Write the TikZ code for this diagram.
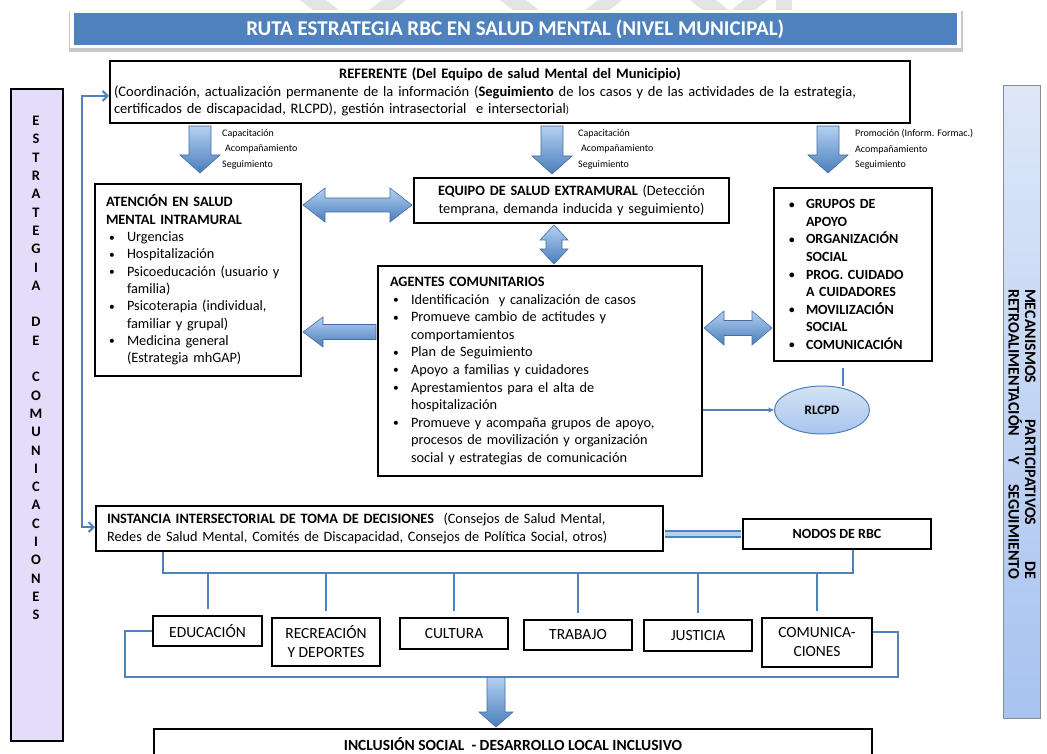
\documentclass[tikz,border=0pt]{standalone}
\usepackage{fontspec}
\usepackage{graphicx}
\setmainfont{Carlito}
\usetikzlibrary{calc,arrows.meta,shapes.geometric}
\definecolor{tblue}{HTML}{4F81BD}
\definecolor{lav}{HTML}{E5DCF9}
\definecolor{arrtop}{HTML}{B4D0F2}
\definecolor{arrbot}{HTML}{4A7EBB}
\definecolor{rbtop}{HTML}{DEE7F8}
\definecolor{rbbot}{HTML}{A7C3EF}
\definecolor{elltop}{HTML}{D3E2F6}
\definecolor{ellbot}{HTML}{A9C5EE}
\definecolor{wm}{HTML}{E4E4E4}
\newcommand\smbul{\raisebox{0.5pt}{\scalebox{0.8}{\textbullet}}}
\newcommand\bul[1]{\makebox[21pt][l]{\hspace{3pt}\smbul}#1}
\newcommand\cnt[1]{\hspace*{21pt}#1}
\newcommand\bulg[1]{\makebox[26pt][l]{\hspace{9pt}\smbul}#1}
\newcommand\cntg[1]{\hspace*{26pt}#1}
% block arrows: #1 start, #2 tip, #3 shaft half width, #4 head half width, #5 head length
\newcommand\blkdown[5]{\path[barrow] let \p1=#1,\p2=#2 in (\x1-#3pt,\y1)--(\x1+#3pt,\y1)--(\x1+#3pt,\y2+#5pt)--(\x1+#4pt,\y2+#5pt)--(\x1,\y2)--(\x1-#4pt,\y2+#5pt)--(\x1-#3pt,\y2+#5pt)--cycle;}
\newcommand\blkleft[5]{\path[barrow] let \p1=#1,\p2=#2 in (\x1,\y1-#3pt)--(\x1,\y1+#3pt)--(\x2+#5pt,\y1+#3pt)--(\x2+#5pt,\y1+#4pt)--(\x2,\y1)--(\x2+#5pt,\y1-#4pt)--(\x2+#5pt,\y1-#3pt)--cycle;}
\newcommand\blkhh[5]{\path[barrow] let \p1=#1,\p2=#2 in (\x1,\y1)--(\x1+#5pt,\y1+#4pt)--(\x1+#5pt,\y1+#3pt)--(\x2-#5pt,\y1+#3pt)--(\x2-#5pt,\y1+#4pt)--(\x2,\y1)--(\x2-#5pt,\y1-#4pt)--(\x2-#5pt,\y1-#3pt)--(\x1+#5pt,\y1-#3pt)--(\x1+#5pt,\y1-#4pt)--cycle;}
\newcommand\blkvv[5]{\path[barrow] let \p1=#1,\p2=#2 in (\x1,\y1)--(\x1+#4pt,\y1-#5pt)--(\x1+#3pt,\y1-#5pt)--(\x1+#3pt,\y2+#5pt)--(\x1+#4pt,\y2+#5pt)--(\x1,\y2)--(\x1-#4pt,\y2+#5pt)--(\x1-#3pt,\y2+#5pt)--(\x1-#3pt,\y1-#5pt)--(\x1-#4pt,\y1-#5pt)--cycle;}
\begin{document}
\begin{tikzpicture}[x=1pt,y=-1pt,
 box/.style={draw=black,line width=2pt,fill=white,anchor=north west,inner ysep=0pt},
 barrow/.style={top color=arrtop,bottom color=arrbot,draw=tblue!85!black,line width=0.6pt},
 conn/.style={draw=tblue,line width=2pt},
 lbl/.style={anchor=north west,align=left,inner sep=0pt,font=\fontsize{10}{15.5}\selectfont},
 body/.style={font=\fontsize{14.3}{17.3}\selectfont,align=left},
 sbox/.style={box,align=center,inner sep=0pt,font=\fontsize{15.5}{19}\selectfont}]
\useasboundingbox (0,0) rectangle (1047,754);
\clip (0,0) rectangle (1047,754);
\fill[white] (0,0) rectangle (1047,754);

% faint watermark at the top
\fill[wm] (300,0) -- (326,0) -- (340,11) -- (314,11) -- cycle;
\fill[wm] (382,0) -- (406,0) -- (392,11) -- (368,11) -- cycle;
\fill[wm] (500,0) -- (526,0) -- (540,11) -- (514,11) -- cycle;
\fill[wm] (598,0) -- (622,0) -- (608,11) -- (584,11) -- cycle;
\fill[wm] (690,0) -- (716,0) -- (730,11) -- (704,11) -- cycle;
\fill[wm] (744,0) -- (768,0) -- (754,11) -- (730,11) -- cycle;
\fill[wm] (776,0) rectangle (792,11);

% title
\fill[black!22] (69,11) rectangle (963,52);
\node[draw=white,line width=3.5pt,fill=tblue,minimum width=887,minimum height=35,anchor=north west,inner sep=0,text=white,font=\bfseries\fontsize{21}{24}\selectfont] (title) at (70,10) {RUTA ESTRATEGIA RBC EN SALUD MENTAL (NIVEL MUNICIPAL)};

% side bars
\node[draw=black,line width=1.6pt,fill=lav,minimum width=52,minimum height=652,anchor=north west,inner sep=0] (lbar) at (10,88) {};
\node[font=\bfseries\fontsize{14.5}{18.3}\selectfont,align=center,anchor=north,inner sep=0] (lbtext) at (36,116) {E\\S\\T\\R\\A\\T\\E\\G\\I\\A\\\mbox{}\\D\\E\\\mbox{}\\C\\O\\M\\U\\N\\I\\C\\A\\C\\I\\O\\N\\E\\S};
\node[draw=black!45,line width=0.8pt,top color=rbtop,bottom color=rbbot,minimum width=37,minimum height=633,anchor=north west,inner sep=0] (rbar) at (1003,85) {};
\node[rotate=-90,font=\bfseries\fontsize{16}{16.5}\selectfont,align=center,inner sep=0] (rbtext) at (1022,434) {\makebox[290pt][s]{MECANISMOS PARTICIPATIVOS DE}\\\makebox[290pt][s]{RETROALIMENTACIÓN Y SEGUIMIENTO}};

% main boxes
\node[box,body,font=\fontsize{14.5}{17.3}\selectfont,minimum width=800,minimum height=62,text width=792,inner xsep=4pt] (ref) at (109,60) {\makebox[792pt][c]{\bfseries REFERENTE (Del Equipo de salud Mental del Municipio)}\\(Coordinación, actualización permanente de la información (\textbf{Seguimiento} de los casos y de las actividades de la estrategia,\\certificados de discapacidad, RLCPD), gestión intrasectorial\ \ e intersectorial{\fontsize{10.5}{12}\selectfont)}};

\node[box,body,minimum width=206,minimum height=192,text width=184,inner xsep=11pt] (aten) at (94,183) {\textbf{ATENCIÓN EN SALUD}\\\textbf{MENTAL INTRAMURAL}\\\bul{Urgencias}\\\bul{Hospitalización}\\\bul{Psicoeducación (usuario y}\\\cnt{familia)}\\\bul{Psicoterapia (individual,}\\\cnt{familiar y grupal)}\\\bul{Medicina general}\\\cnt{(Estrategia mhGAP)}};

\node[box,body,align=center,minimum width=315,minimum height=45,text width=305,inner xsep=5pt] (equip) at (413,177) {\textbf{EQUIPO DE SALUD EXTRAMURAL} (Detección\\temprana, demanda inducida y seguimiento)};

\node[box,body,font=\fontsize{14.3}{17.6}\selectfont,minimum width=324,minimum height=210,text width=300,inner xsep=12pt] (agen) at (377,265) {\textbf{AGENTES COMUNITARIOS}\\\bul{Identificación\ \ y canalización de casos}\\\bul{Promueve cambio de actitudes y}\\\cnt{comportamientos}\\\bul{Plan de Seguimiento}\\\bul{Apoyo a familias y cuidadores}\\\bul{Aprestamientos para el alta de}\\\cnt{hospitalización}\\\bul{Promueve y acompaña grupos de apoyo,}\\\cnt{procesos de movilización y organización}\\\cnt{social y estrategias de comunicación}};

\node[box,align=left,font=\bfseries\fontsize{14}{17.6}\selectfont,minimum width=158,minimum height=173,text width=146,inner xsep=6pt] (grupos) at (773,187) {\bulg{GRUPOS DE}\\\cntg{APOYO}\\\bulg{ORGANIZACIÓN}\\\cntg{SOCIAL}\\\bulg{PROG. CUIDADO}\\\cntg{A CUIDADORES}\\\bulg{MOVILIZACIÓN}\\\cntg{SOCIAL}\\\bulg{COMUNICACIÓN}};

\node[ellipse,draw=tblue,line width=1pt,top color=elltop,bottom color=ellbot,minimum width=95,minimum height=48,inner sep=0,font=\bfseries\fontsize{13}{15}\selectfont] (rl) at (822,410) {RLCPD};

\node[box,body,minimum width=567,minimum height=45,text width=545,inner xsep=11pt] (inst) at (95,505) {\textbf{INSTANCIA INTERSECTORIAL DE TOMA DE DECISIONES}\ \ (Consejos de Salud Mental,\\Redes de Salud Mental, Comités de Discapacidad, Consejos de Política Social, otros)};

\node[box,minimum width=188,minimum height=30,inner sep=0,font=\bfseries\fontsize{14}{16}\selectfont] (nodos) at (742,518) {NODOS DE RBC};

\node[sbox,minimum width=109,minimum height=30] (edu) at (152,615) {EDUCACIÓN};
\node[sbox,minimum width=108,minimum height=48] (rec) at (271,617) {RECREACIÓN\\Y DEPORTES};
\node[sbox,minimum width=108,minimum height=31] (cul) at (399,617) {CULTURA};
\node[sbox,minimum width=108,minimum height=30] (tra) at (523,619) {TRABAJO};
\node[sbox,minimum width=108,minimum height=31] (jus) at (643,619) {JUSTICIA};
\node[sbox,minimum width=110,minimum height=49] (com) at (761,617) {COMUNICA-\\CIONES};

\node[box,minimum width=718,minimum height=30,inner sep=0,font=\bfseries\fontsize{15.5}{17}\selectfont] (incl) at (153,728) {INCLUSIÓN SOCIAL\ \ - DESARROLLO LOCAL INCLUSIVO};

% labels
\node[lbl] (lab1) at (222,129) {Capacitación\\\hspace*{3pt}Acompañamiento\\Seguimiento};
\node[lbl] (lab2) at (578,129) {Capacitación\\\hspace*{3pt}Acompañamiento\\Seguimiento};
\node[lbl] (lab3) at (855,129) {Promoción (Inform. Formac.)\\Acompañamiento\\Seguimiento};

% block arrows
\coordinate (xA) at (200,0);
\coordinate (xB) at (552,0);
\coordinate (xC) at (828,0);
\blkdown{($(ref.south -| xA)+(0,2)$)}{($(aten.north -| xA)+(0,-10)$)}{11}{20}{18}
\blkdown{($(ref.south -| xB)+(0,2)$)}{($(equip.north -| xB)+(0,-3)$)}{11}{20}{18}
\blkdown{($(ref.south -| xC)+(0,2)$)}{($(grupos.north -| xC)+(0,-14)$)}{11}{20}{18}
\coordinate (yAE) at (0,205);
\blkhh{($(aten.east |- yAE)+(1,0)$)}{($(equip.west |- yAE)+(-1,0)$)}{7}{17}{22}
\coordinate (xV) at (554,0);
\blkvv{($(equip.south -| xV)+(0,1)$)}{($(agen.north -| xV)+(0,-1)$)}{8}{14}{15}
\coordinate (yL) at (0,332);
\blkleft{($(agen.west |- yL)+(-1,0)$)}{($(aten.east |- yL)+(1,0)$)}{7.5}{15}{20}
\coordinate (yR) at (0,328);
\blkhh{($(agen.east |- yR)+(1,0)$)}{($(grupos.west |- yR)+(-1,0)$)}{7.5}{17}{20}
\coordinate (xD) at (496,677);
\blkdown{(xD)}{($(incl.north -| xD)+(0,-1)$)}{9}{17}{15}

% thin connectors
\coordinate (lc1) at (82,96);
\coordinate (lc2) at (82,527);
\draw[conn,{Straight Barb[length=5pt,width=10pt]}-{Straight Barb[length=5pt,width=10pt]}] (lc1 -| ref.west) -- (lc1) -- (lc2) -- (lc2 -| inst.west);
\draw[tblue,line width=7.5pt] ($(inst.east |- nodos.west)+(1,0)$) -- ($(nodos.west)+(-1,0)$);
\draw[arrtop,line width=4pt] ($(inst.east |- nodos.west)+(1,0)$) -- ($(nodos.west)+(-1,0)$);
\coordinate (bL) at (163,573);
\coordinate (bR) at (853,573);
\draw[conn] (inst.south -| bL) -- (bL) -- (bR) -- (nodos.south -| bR);
\foreach \n in {edu,rec,cul,tra,jus,com} \draw[conn] (bL -| \n.north) -- ($(\n.north)+(0,-6)$);
\coordinate (cL) at (125,677);
\coordinate (cR) at (898,677);
\coordinate (cRt) at (898,632);
\draw[conn] (edu.west) -- (edu.west -| cL) -- (cL) -- (cR) -- (cRt) -- (cRt -| com.east);
\coordinate (xg) at (843,0);
\draw[conn] ($(grupos.south -| xg)+(0,6)$) -- (xg |- rl.north);
\draw[tblue,line width=1.3pt,-{Stealth[length=6pt,width=5pt]}] (agen.east |- rl.west) -- (rl.west);
\end{tikzpicture}
\end{document}
